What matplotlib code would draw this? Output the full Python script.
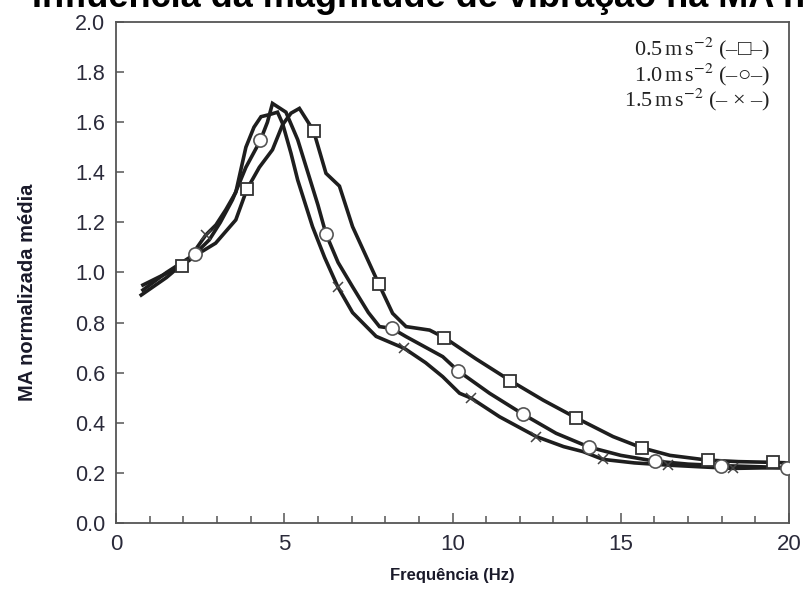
import matplotlib
matplotlib.use("Agg")
import matplotlib.pyplot as plt
from matplotlib.ticker import MultipleLocator

plt.rcParams['mathtext.fontset'] = 'stix'

# ---- data ----
# 0.5 m/s^2 series (squares)
sq_x = [0.8, 1.4, 1.95, 2.47, 2.96, 3.56, 3.89, 4.26, 4.65, 4.95, 5.2, 5.45, 5.87, 6.24, 6.64,
        7.03, 7.81, 8.22, 8.62, 9.32, 9.76, 10.7, 11.72, 12.7, 13.67, 14.77, 15.63, 16.46,
        17.58, 18.5, 19.53, 20.0]
sq_y = [0.95, 0.99, 1.027, 1.077, 1.117, 1.21, 1.332, 1.42, 1.49, 1.59, 1.636, 1.655, 1.566,
        1.396, 1.345, 1.183, 0.954, 0.837, 0.784, 0.77, 0.74, 0.655, 0.568, 0.49, 0.42, 0.345,
        0.30, 0.27, 0.251, 0.245, 0.242, 0.24]
sq_mx = [1.95, 3.89, 5.87, 7.81, 9.76, 11.72, 13.67, 15.63, 17.58, 19.53]
sq_my = [1.027, 1.332, 1.566, 0.954, 0.74, 0.568, 0.42, 0.30, 0.251, 0.242]

# 1.0 m/s^2 series (circles)
ci_x = [0.8, 1.5, 2.34, 2.77, 3.1, 3.46, 3.86, 4.29, 4.5, 4.65, 5.05, 5.4, 5.7, 6.0, 6.24,
        6.6, 7.03, 7.5, 7.83, 8.2, 8.62, 9.71, 10.16, 11.1, 12.1, 13.08, 14.06, 15.0, 16.01,
        17.0, 17.97, 19.0, 19.93, 20.0]
ci_y = [0.93, 1.0, 1.073, 1.13, 1.2, 1.29, 1.42, 1.527, 1.60, 1.675, 1.64, 1.53, 1.40, 1.27,
        1.154, 1.04, 0.943, 0.84, 0.784, 0.777, 0.744, 0.664, 0.608, 0.518, 0.434, 0.358,
        0.303, 0.27, 0.247, 0.235, 0.229, 0.225, 0.221, 0.22]
ci_mx = [2.34, 4.29, 6.24, 8.2, 10.16, 12.1, 14.06, 16.01, 17.97, 19.93]
ci_my = [1.073, 1.527, 1.154, 0.777, 0.608, 0.434, 0.303, 0.247, 0.229, 0.221]

# 1.5 m/s^2 series (crosses)
cr_x = [0.75, 1.5, 2.2, 2.67, 2.97, 3.26, 3.56, 3.86, 4.1, 4.31, 4.55, 4.8, 4.95, 5.2, 5.4,
        5.84, 6.2, 6.59, 7.03, 7.73, 8.57, 9.2, 9.71, 10.21, 10.56, 11.4, 12.49, 13.3, 13.88,
        14.47, 15.4, 16.41, 17.4, 18.34, 19.2, 20.0]
cr_y = [0.91, 0.98, 1.06, 1.15, 1.19, 1.25, 1.32, 1.50, 1.58, 1.622, 1.63, 1.64, 1.595, 1.476,
        1.369, 1.183, 1.06, 0.943, 0.84, 0.745, 0.697, 0.64, 0.584, 0.518, 0.498, 0.424,
        0.345, 0.305, 0.285, 0.254, 0.24, 0.231, 0.224, 0.218, 0.22, 0.22]
cr_mx = [2.67, 6.59, 8.57, 10.56, 12.49, 14.47, 16.41, 18.34]
cr_my = [1.15, 0.943, 0.697, 0.498, 0.345, 0.254, 0.231, 0.218]

legend_labels = ["0.5", "1.0", "1.5"]
legend_syms = ["(–□–)", "(–○–)", "(– × –)"]

title = "Influência da magnitude de vibração na MA normalizada"
xlabel = "Frequência (Hz)"
ylabel = "MA normalizada média"

# ---- figure ----
W, H = 806, 595
fig = plt.figure(figsize=(W / 100, H / 100), dpi=100)
ax = fig.add_axes([116 / W, 1 - 523 / H, (789 - 116) / W, (523 - 22) / H])

lc = "#1e1e1e"
lw = 2.6
ax.plot(sq_x, sq_y, color=lc, lw=lw, solid_joinstyle='miter', zorder=2)
ax.plot(ci_x, ci_y, color=lc, lw=lw, solid_joinstyle='miter', zorder=2)
ax.plot(cr_x, cr_y, color=lc, lw=lw, solid_joinstyle='miter', zorder=2)

ax.plot(sq_mx, sq_my, ls='none', marker='s', ms=9, mfc='white', mec='#333333', mew=1.3, zorder=3)
ax.plot(ci_mx, ci_my, ls='none', marker='o', ms=9.5, mfc='white', mec='#555555', mew=1.2, zorder=3)
ax.plot(cr_mx, cr_my, ls='none', marker='x', ms=7, mec='#444444', mew=1.1, zorder=3)

ax.set_xlim(0, 20)
ax.set_ylim(0, 2.0)
ax.xaxis.set_major_locator(MultipleLocator(5))
ax.xaxis.set_minor_locator(MultipleLocator(1))
ax.yaxis.set_major_locator(MultipleLocator(0.2))
ax.set_yticklabels([f"{v:.1f}" for v in ax.get_yticks()])

for s in ax.spines.values():
    s.set_color("#555555")
    s.set_linewidth(1.3)

tick_col = "#2a2a3a"
ax.tick_params(axis='both', which='both', direction='in', color="#555555", width=1.1,
               top=False, right=False)
ax.tick_params(axis='y', which='major', length=6, labelsize=15.5, labelcolor=tick_col, pad=8)
ax.tick_params(axis='x', which='major', length=7, labelsize=16, labelcolor=tick_col, pad=8)
ax.tick_params(axis='x', which='minor', length=5)
for lab in ax.get_xticklabels() + ax.get_yticklabels():
    lab.set_family(['Liberation Sans'])

ax.set_xlabel(xlabel, fontsize=12, fontweight='bold', color="#1a1a2a",
              family=['Liberation Sans'], labelpad=9)
fig.text(28 / W, 1 - 292 / H, ylabel, rotation=90, ha='center', va='center',
         fontsize=14.5, fontweight='bold', color="#1a1a2a", family=['Liberation Sans'])

fig.text(32 / W, 1 - 7 / H, title, ha='left', va='baseline', fontsize=26,
         fontweight='bold', color="black", family=['Liberation Sans'])

rows = [49, 74.5, 100]
for lab, sym, r in zip(legend_labels, legend_syms, rows):
    fig.text(770 / W, 1 - r / H, lab + r"$\,$m$\,$s$^{-2}$ " + sym, ha='right', va='center',
             fontsize=16, color="#222222", family=['Liberation Serif', 'DejaVu Serif'])

fig.savefig("out.png", dpi=100)
